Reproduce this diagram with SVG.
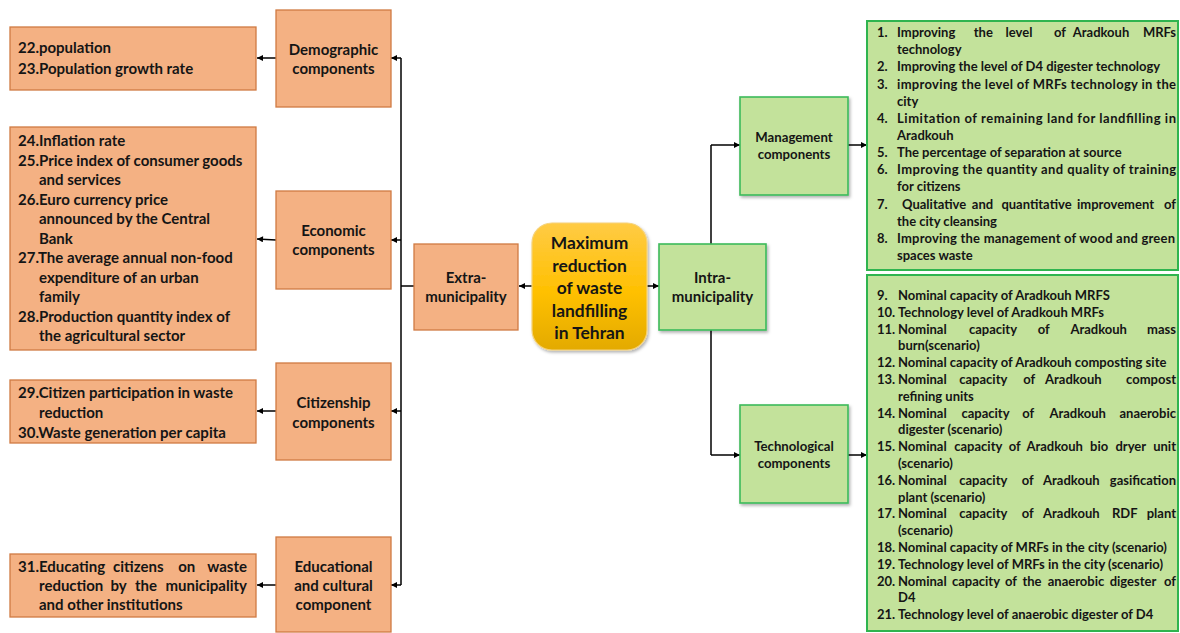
<svg xmlns="http://www.w3.org/2000/svg" width="1180" height="633" viewBox="0 0 1180 633">
<style>
.org{fill:#F4B183;stroke:#D07A43;stroke-width:1.3}
.grn{fill:#C3E29B;stroke:#3DBB5B;stroke-width:1.6}
.grnl{fill:#C3E29B;stroke:#2FB44F;stroke-width:2}
text{font-family:Lato,"Liberation Sans",sans-serif;font-weight:700;fill:#151515}
.t14{font-size:15px}
.t12{font-size:13.2px}
.tc{text-anchor:middle}
.te{text-anchor:end}
.tm{font-size:17.4px}
.tl{font-size:13px}
.conn line,.conn path{stroke:#000;stroke-width:1.5;fill:none}
.arr{marker-end:url(#ah)}
</style>
<defs>
<marker id="ah" viewBox="0 0 8 8" refX="8" refY="4" markerWidth="7" markerHeight="6" orient="auto" markerUnits="userSpaceOnUse">
<path d="M0,0 L8,4 L0,8 z" fill="#000"/>
</marker>
<linearGradient id="gold" x1="0" y1="0" x2="0" y2="1">
<stop offset="0" stop-color="#FFCB45"/>
<stop offset="0.55" stop-color="#FFC000"/>
<stop offset="1" stop-color="#E3AA00"/>
</linearGradient>
<filter id="sh" x="-20%" y="-20%" width="140%" height="140%">
<feDropShadow dx="1.5" dy="2" stdDeviation="1.5" flood-color="#000" flood-opacity="0.3"/>
</filter>
</defs>

<g class="conn">
<line x1="401" y1="58" x2="401" y2="585"/>
<line x1="401" y1="58" x2="391" y2="58" class="arr"/>
<line x1="401" y1="240" x2="391" y2="240" class="arr"/>
<line x1="401" y1="411" x2="391" y2="411" class="arr"/>
<line x1="401" y1="585" x2="391" y2="585" class="arr"/>
<line x1="401" y1="286" x2="414" y2="286"/>
<line x1="276" y1="58" x2="257" y2="58" class="arr"/>
<line x1="276" y1="240" x2="257" y2="239" class="arr"/>
<line x1="276" y1="411" x2="257" y2="411" class="arr"/>
<line x1="276" y1="585" x2="257" y2="585" class="arr"/>
<line x1="532" y1="286" x2="519" y2="286" class="arr"/>
<line x1="647" y1="286" x2="659" y2="286" class="arr"/>
<line x1="711" y1="145" x2="711" y2="455"/>
<line x1="711" y1="145" x2="740" y2="145" class="arr"/>
<line x1="711" y1="455" x2="740" y2="455" class="arr"/>
<line x1="848" y1="145" x2="867" y2="145" class="arr"/>
<line x1="848" y1="455" x2="867" y2="455" class="arr"/>
</g>

<g id="demographic">
<rect class="org" x="276" y="10" width="115" height="97"/>
<text class="t14 tc" x="333.5" y="55">Demographic</text>
<text class="t14 tc" x="333.5" y="74">components</text>
</g>
<g id="demographic-list">
<rect class="org" x="10" y="27" width="246" height="63"/>
<text class="t14" x="18" y="53">22.population</text>
<text class="t14" x="18" y="74">23.Population growth rate</text>
</g>

<g id="economic">
<rect class="org" x="276" y="191" width="115" height="98"/>
<text class="t14 tc" x="333.5" y="236">Economic</text>
<text class="t14 tc" x="333.5" y="255">components</text>
</g>
<g id="economic-list">
<rect class="org" x="10" y="127" width="246" height="223"/>
<text class="t14" x="18" y="146">24.Inflation rate</text>
<text class="t14" x="18" y="165.5">25.Price index of consumer goods</text>
<text class="t14" x="39" y="185">and services</text>
<text class="t14" x="18" y="204.5">26.Euro currency price</text>
<text class="t14" x="39" y="224">announced by the Central</text>
<text class="t14" x="39" y="243.5">Bank</text>
<text class="t14" x="18" y="263">27.The average annual non-food</text>
<text class="t14" x="39" y="282.5">expenditure of an urban</text>
<text class="t14" x="39" y="302">family</text>
<text class="t14" x="18" y="321.5">28.Production quantity index of</text>
<text class="t14" x="39" y="341">the agricultural sector</text>
</g>

<g id="citizenship">
<rect class="org" x="276" y="363" width="115" height="97"/>
<text class="t14 tc" x="333.5" y="408">Citizenship</text>
<text class="t14 tc" x="333.5" y="428">components</text>
</g>
<g id="citizenship-list">
<rect class="org" x="10" y="380" width="246" height="63"/>
<text class="t14" x="18" y="398">29.Citizen participation in waste</text>
<text class="t14" x="39" y="418">reduction</text>
<text class="t14" x="18" y="438">30.Waste generation per capita</text>
</g>

<g id="educational">
<rect class="org" x="276" y="537" width="115" height="95"/>
<text class="t14 tc" x="333.5" y="572">Educational</text>
<text class="t14 tc" x="333.5" y="591">and cultural</text>
<text class="t14 tc" x="333.5" y="610">component</text>
</g>
<g id="educational-list">
<rect class="org" x="10" y="554" width="246" height="63"/>
<text class="t14" x="18" y="572">31.</text>
<text class="t14" x="39" y="572">Educating</text>
<text class="t14 tc" x="138.3" y="572">citizens</text>
<text class="t14 tc" x="186.7" y="572">on</text>
<text class="t14 te" x="247" y="572">waste</text>
<text class="t14" x="39" y="591">reduction</text>
<text class="t14 tc" x="118.5" y="591">by</text>
<text class="t14 tc" x="146" y="591">the</text>
<text class="t14 te" x="247" y="591">municipality</text>
<text class="t14" x="39" y="610">and other institutions</text>
</g>

<g id="extra">
<rect class="org" x="414" y="244" width="104" height="86"/>
<text class="t14 tc" x="466" y="283">Extra-</text>
<text class="t14 tc" x="466" y="302">municipality</text>
</g>

<g id="goal">
<rect x="532" y="223" width="115" height="127" rx="20" ry="20" fill="url(#gold)" stroke="#F5D27A" stroke-width="1.2" filter="url(#sh)"/>
<text class="tm tc" x="589.5" y="249">Maximum</text>
<text class="tm tc" x="589.5" y="271.5">reduction</text>
<text class="tm tc" x="589.5" y="294">of waste</text>
<text class="tm tc" x="589.5" y="316.5">landfilling</text>
<text class="tm tc" x="589.5" y="339">in Tehran</text>
</g>

<g id="intra">
<rect class="grn" x="659" y="244" width="107" height="86" filter="url(#sh)"/>
<text class="t14 tc" x="712.5" y="283">Intra-</text>
<text class="t14 tc" x="712.5" y="302">municipality</text>
</g>

<g id="management">
<rect class="grn" x="740" y="97" width="108" height="98" filter="url(#sh)"/>
<text class="t12 tc" x="794" y="142">Management</text>
<text class="t12 tc" x="794" y="159">components</text>
</g>
<g id="management-list">
<rect class="grnl" x="867" y="21" width="311" height="249"/>
<text class="tl" x="877" y="37">1.</text>
<text class="tl" x="897" y="37">Improving</text>
<text class="tl tc" x="983.3" y="37">the</text>
<text class="tl tc" x="1019" y="37">level</text>
<text class="tl tc" x="1060" y="37">of</text>
<text class="tl tc" x="1101" y="37">Aradkouh</text>
<text class="tl te" x="1176" y="37">MRFs</text>
<text class="tl" x="897" y="54">technology</text>
<text class="tl" x="877" y="71.3">2.</text><text class="tl" x="897" y="71.3">Improving the level of D4 digester technology</text>
<text class="tl" x="877" y="88.5">3.</text><text class="tl" x="897" y="88.5" textLength="279" lengthAdjust="spacing">improving the level of MRFs technology in the</text>
<text class="tl" x="897" y="105.6">city</text>
<text class="tl" x="877" y="122.8">4.</text><text class="tl" x="897" y="122.8" textLength="279" lengthAdjust="spacing">Limitation of remaining land for landfilling in</text>
<text class="tl" x="897" y="139.9">Aradkouh</text>
<text class="tl" x="877" y="157">5.</text><text class="tl" x="897" y="157">The percentage of separation at source</text>
<text class="tl" x="877" y="174.2">6.</text><text class="tl" x="897" y="174.2" textLength="279" lengthAdjust="spacing">Improving the quantity and quality of training</text>
<text class="tl" x="897" y="191.3">for citizens</text>
<text class="tl" x="877" y="208.5">7.</text>
<text class="tl" x="902" y="208.5">Qualitative</text>
<text class="tl tc" x="982.5" y="208.5">and</text>
<text class="tl tc" x="1036.5" y="208.5">quantitative</text>
<text class="tl tc" x="1115.5" y="208.5">improvement</text>
<text class="tl te" x="1176" y="208.5">of</text>
<text class="tl" x="897" y="225.6">the city cleansing</text>
<text class="tl" x="877" y="242.8">8.</text><text class="tl" x="897" y="242.8" textLength="278" lengthAdjust="spacing">Improving the management of wood and green</text>
<text class="tl" x="897" y="260">spaces waste</text>
</g>

<g id="technological">
<rect class="grn" x="740" y="405" width="108" height="98" filter="url(#sh)"/>
<text class="t12 tc" x="794" y="451">Technological</text>
<text class="t12 tc" x="794" y="468">components</text>
</g>
<g id="technological-list">
<rect class="grnl" x="867" y="275" width="311" height="356"/>
<text class="tl" x="877" y="300">9.</text><text class="tl" x="898" y="300">Nominal capacity of Aradkouh MRFS</text>
<text class="tl" x="877" y="316.8">10.</text><text class="tl" x="898" y="316.8">Technology level of Aradkouh MRFs</text>
<text class="tl" x="877" y="333.6">11.</text>
<text class="tl" x="898" y="333.6">Nominal</text>
<text class="tl tc" x="993" y="333.6">capacity</text>
<text class="tl tc" x="1043.7" y="333.6">of</text>
<text class="tl tc" x="1098.7" y="333.6">Aradkouh</text>
<text class="tl te" x="1176" y="333.6">mass</text>
<text class="tl" x="898" y="350.4">burn(scenario)</text>
<text class="tl" x="877" y="367.2">12.</text><text class="tl" x="898" y="367.2">Nominal capacity of Aradkouh composting site</text>
<text class="tl" x="877" y="384">13.</text>
<text class="tl" x="898" y="384">Nominal</text>
<text class="tl tc" x="983.3" y="384">capacity</text>
<text class="tl tc" x="1029.2" y="384">of</text>
<text class="tl tc" x="1073.3" y="384">Aradkouh</text>
<text class="tl te" x="1176" y="384">compost</text>
<text class="tl" x="898" y="400.8">refining units</text>
<text class="tl" x="877" y="417.6">14.</text>
<text class="tl" x="898" y="417.6">Nominal</text>
<text class="tl tc" x="985.5" y="417.6">capacity</text>
<text class="tl tc" x="1028.3" y="417.6">of</text>
<text class="tl tc" x="1077.7" y="417.6">Aradkouh</text>
<text class="tl te" x="1176" y="417.6">anaerobic</text>
<text class="tl" x="898" y="434.4">digester (scenario)</text>
<text class="tl" x="877" y="451.2">15.</text>
<text class="tl" x="898" y="451.2">Nominal</text>
<text class="tl tc" x="978.3" y="451.2">capacity</text>
<text class="tl tc" x="1014.7" y="451.2">of</text>
<text class="tl tc" x="1054.7" y="451.2">Aradkouh</text>
<text class="tl tc" x="1099.2" y="451.2">bio</text>
<text class="tl tc" x="1130.8" y="451.2">dryer</text>
<text class="tl te" x="1176" y="451.2">unit</text>
<text class="tl" x="898" y="468">(scenario)</text>
<text class="tl" x="877" y="484.8">16.</text>
<text class="tl" x="898" y="484.8">Nominal</text>
<text class="tl tc" x="983.3" y="484.8">capacity</text>
<text class="tl tc" x="1027.8" y="484.8">of</text>
<text class="tl tc" x="1071.3" y="484.8">Aradkouh</text>
<text class="tl te" x="1176" y="484.8">gasification</text>
<text class="tl" x="898" y="501.6">plant (scenario)</text>
<text class="tl" x="877" y="518.4">17.</text>
<text class="tl" x="898" y="518.4">Nominal</text>
<text class="tl tc" x="983.3" y="518.4">capacity</text>
<text class="tl tc" x="1027.8" y="518.4">of</text>
<text class="tl tc" x="1071.3" y="518.4">Aradkouh</text>
<text class="tl tc" x="1124.7" y="518.4">RDF</text>
<text class="tl te" x="1176" y="518.4">plant</text>
<text class="tl" x="898" y="535.2">(scenario)</text>
<text class="tl" x="877" y="552">18.</text><text class="tl" x="898" y="552">Nominal capacity of MRFs in the city (scenario)</text>
<text class="tl" x="877" y="568.8">19.</text><text class="tl" x="898" y="568.8">Technology level of MRFs in the city (scenario)</text>
<text class="tl" x="877" y="585.6">20.</text>
<text class="tl" x="898" y="585.6">Nominal</text>
<text class="tl tc" x="976" y="585.6">capacity</text>
<text class="tl tc" x="1011" y="585.6">of</text>
<text class="tl tc" x="1032" y="585.6">the</text>
<text class="tl tc" x="1076" y="585.6">anaerobic</text>
<text class="tl tc" x="1133" y="585.6">digester</text>
<text class="tl te" x="1176" y="585.6">of</text>
<text class="tl" x="898" y="602.4">D4</text>
<text class="tl" x="877" y="619.2">21.</text><text class="tl" x="898" y="619.2">Technology level of anaerobic digester of D4</text>
</g>
</svg>
